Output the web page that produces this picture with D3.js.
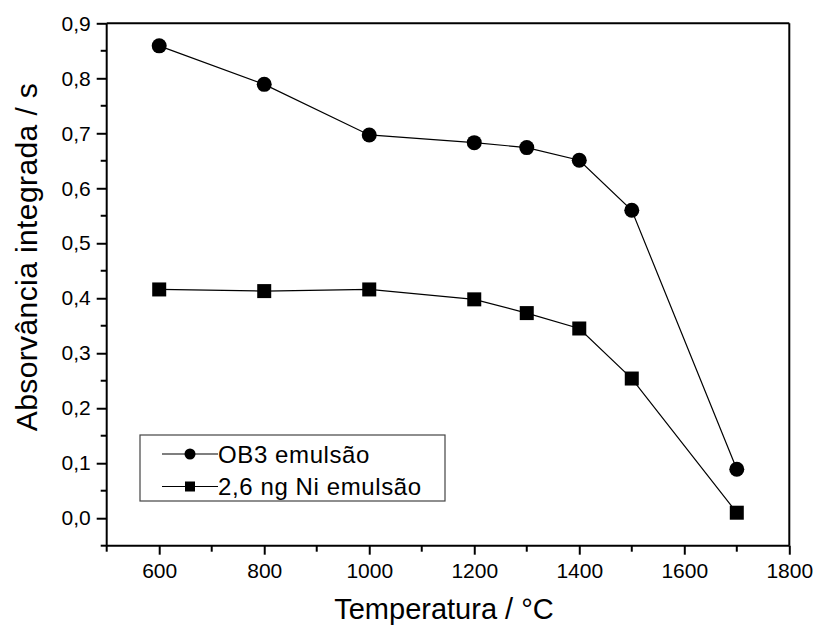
<!DOCTYPE html>
<html>
<head>
<meta charset="utf-8">
<script src="https://cdn.jsdelivr.net/npm/d3@7"></script>
<style>
  html, body { margin: 0; padding: 0; background: #fff; }
  text { font-family: Arial, "Liberation Sans", sans-serif; fill: #000; }
</style>
</head>
<body>
<svg id="chart" width="815" height="628"></svg>
<script>
const temperatures = [600, 800, 1000, 1200, 1300, 1400, 1500, 1700];
const ob3Values = [0.859, 0.789, 0.697, 0.683, 0.674, 0.651, 0.560, 0.089];
const niValues = [0.416, 0.413, 0.416, 0.398, 0.373, 0.345, 0.254, 0.010];
const seriesNames = ["OB3 emulsão", "2,6 ng Ni emulsão"];
const xTicks = [600, 800, 1000, 1200, 1400, 1600, 1800];
const yTicks = [0.0, 0.1, 0.2, 0.3, 0.4, 0.5, 0.6, 0.7, 0.8, 0.9];
const xTitle = "Temperatura / °C";
const yTitle = "Absorvância integrada / s";

(function () {
const svg = d3.select("#chart");
const pL = 106.7, pR = 789.3, pT = 23.3, pB = 545.7;
const FONT = "Arial, 'Liberation Sans', sans-serif";

const x = d3.scaleLinear().domain([500, 1800]).range([pL, pR]);
const y = d3.scaleLinear().domain([-0.05, 0.9]).range([pB, pT]);

const fmtY = d => d3.format(".1f")(d).replace(".", ",");

svg.append("line").attr("x1", pL).attr("x2", pR).attr("y1", pT).attr("y2", pT)
  .attr("stroke", "#000").attr("stroke-width", 2);
svg.append("line").attr("x1", pR).attr("x2", pR).attr("y1", pT).attr("y2", pB)
  .attr("stroke", "#000").attr("stroke-width", 2);

const xMinor = d3.range(500, 1801, 100).filter(v => !xTicks.includes(v));
const yMinor = d3.range(-0.05, 0.9, 0.1);

const gx = svg.append("g").attr("transform", `translate(0,${pB})`);
gx.call(d3.axisBottom(x).tickValues(xTicks).tickSize(9).tickPadding(8).tickFormat(d3.format("d")));
gx.selectAll(".tick text").attr("font-size", 21).style("font-family", FONT);
gx.selectAll("line").attr("stroke-width", 2);
gx.select(".domain").attr("stroke-width", 2).attr("d", `M${pL},0H${pR}`);
gx.selectAll(".minor").data(xMinor).enter().append("line")
  .attr("x1", d => x(d)).attr("x2", d => x(d)).attr("y1", 0).attr("y2", 6)
  .attr("stroke", "#000").attr("stroke-width", 2);

const gy = svg.append("g").attr("transform", `translate(${pL},0)`);
gy.call(d3.axisLeft(y).tickValues(yTicks).tickSize(10).tickPadding(6).tickFormat(fmtY));
gy.selectAll(".tick text").attr("font-size", 21).style("font-family", FONT);
gy.selectAll("line").attr("stroke-width", 2);
gy.select(".domain").attr("stroke-width", 2).attr("d", `M0,${pB}V${pT}`);
gy.selectAll(".minor").data(yMinor).enter().append("line")
  .attr("x1", -6).attr("x2", 0).attr("y1", d => y(d)).attr("y2", d => y(d))
  .attr("stroke", "#000").attr("stroke-width", 2);

svg.append("text").attr("x", 444).attr("y", 619)
  .attr("text-anchor", "middle").attr("font-size", 29).text(xTitle);
svg.append("text").attr("transform", `translate(37,257) rotate(-90)`)
  .attr("text-anchor", "middle").attr("font-size", 30).attr("letter-spacing", 0.4).text(yTitle);

const line = d3.line().x(d => x(d[0])).y(d => y(d[1]));
const ob3 = temperatures.map((t, i) => [t, ob3Values[i]]);
const ni = temperatures.map((t, i) => [t, niValues[i]]);

svg.append("path").datum(ob3).attr("d", line).attr("fill", "none").attr("stroke", "#000").attr("stroke-width", 1.2);
svg.append("path").datum(ni).attr("d", line).attr("fill", "none").attr("stroke", "#000").attr("stroke-width", 1.2);

svg.selectAll(".c").data(ob3).enter().append("circle")
  .attr("cx", d => x(d[0])).attr("cy", d => y(d[1])).attr("r", 7.5).attr("fill", "#000");
svg.selectAll(".s").data(ni).enter().append("rect")
  .attr("x", d => x(d[0]) - 7).attr("y", d => y(d[1]) - 7).attr("width", 14).attr("height", 14).attr("fill", "#000");

const lg = svg.append("g");
lg.append("rect").attr("x", 140).attr("y", 435).attr("width", 305).attr("height", 66)
  .attr("fill", "#fff").attr("stroke", "#444").attr("stroke-width", 1.2);
const rows = [454, 486.5];
rows.forEach((ry, i) => {
  lg.append("line").attr("x1", 162).attr("x2", 218).attr("y1", ry).attr("y2", ry).attr("stroke", "#000").attr("stroke-width", 1.2);
  if (i === 0) lg.append("circle").attr("cx", 190).attr("cy", ry).attr("r", 5.5).attr("fill", "#000");
  else lg.append("rect").attr("x", 185).attr("y", ry - 5).attr("width", 10).attr("height", 10).attr("fill", "#000");
  lg.append("text").attr("x", 218).attr("y", ry).attr("dy", "0.36em").attr("font-size", 24)
    .attr("letter-spacing", 0.6).text(seriesNames[i]);
});
})();
</script>
</body>
</html>
